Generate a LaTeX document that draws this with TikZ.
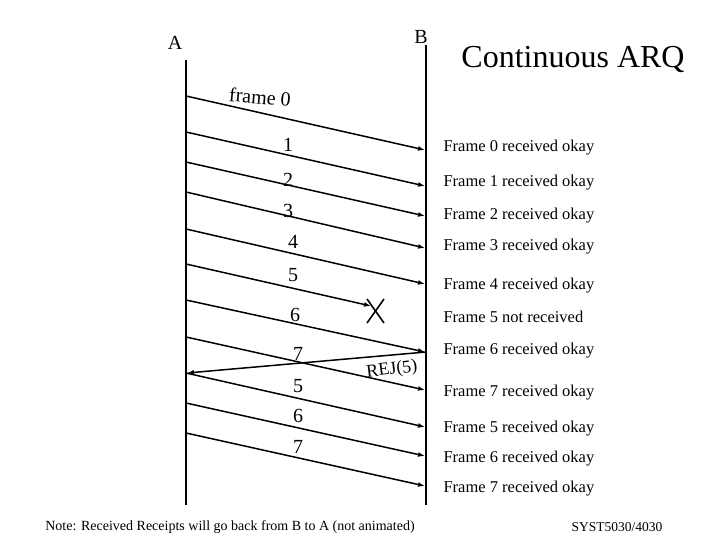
\documentclass[tikz,border=0pt]{standalone}
\usepackage{fontspec}
\setmainfont{Liberation Serif}
\usetikzlibrary{arrows.meta}
\begin{document}
\begin{tikzpicture}[x=1pt,y=-1pt,
  msg/.style={line width=1.5pt,-{Latex[length=7pt,width=5pt]}},
  num/.style={font=\fontsize{20}{22}\selectfont,anchor=base},
  rl/.style={font=\fontsize{16.5}{18}\selectfont,anchor=west},
  line/.style={line width=1.6pt}]
\useasboundingbox (0,0) rectangle (720,540);
\coordinate (Atop) at (186,60); \coordinate (Abot) at (186,505);
\coordinate (Btop) at (426,45); \coordinate (Bbot) at (426,505);
\draw[line] (Atop) -- (Abot); \draw[line] (Btop) -- (Bbot);
\node[font=\fontsize{20}{22}\selectfont] (A) at (175,43) {A};
\node[font=\fontsize{20}{22}\selectfont] (B) at (421,37) {B};
\node[font=\fontsize{32}{34}\selectfont] (T) at (573,60) {Continuous ARQ};
\foreach \n/\ya/\yb in {s0/96/150,s1/132/186,s2/162/216,s3/192/248,s4/229/284,s6/300/352,s7/337/390,r5/373/427,r6/403/456,r7/433/486}{
  \coordinate (\n a) at (186,\ya); \coordinate (\n b) at (425,\yb);
  \draw[msg] (\n a) -- (\n b);}
\coordinate (s5a) at (186,264); \coordinate (s5b) at (371,306);
\draw[msg] (s5a) -- (s5b);
\coordinate (x1) at (367,299); \coordinate (x2) at (384,323);
\coordinate (x3) at (384,299); \coordinate (x4) at (367,323);
\draw[line] (x1)--(x2); \draw[line] (x3)--(x4);
\coordinate (rejA) at (187,373); \coordinate (rejB) at (426,352);
\draw[msg] (rejB) -- (rejA);
\node[font=\fontsize{18}{20}\selectfont,rotate=7] (rej) at (392,370) {REJ(5)};
\node[font=\fontsize{20}{22}\selectfont,rotate=-5] (f0) at (260,97) {frame 0};
\foreach \t/\x/\y in {1/288/152,2/288/187,3/288/218,4/293/248,5/293/281,6/295/321,7/298/360,5/298/392,6/298/422,7/298/453}
  \node[num] at (\x,\y) {\t};
\foreach \t/\y in {Frame 0 received okay/148,Frame 1 received okay/183,Frame 2 received okay/216,Frame 3 received okay/247,Frame 4 received okay/286,Frame 5 not received/317,Frame 6 received okay/351,Frame 7 received okay/393,Frame 5 received okay/429,Frame 6 received okay/459,Frame 7 received okay/489}
  \node[rl] at (440,\y) {\t};
\node[font=\fontsize{14}{16}\selectfont] (note) at (230,527) {Note: Received Receipts will go back from B to A (not animated)};
\node[font=\fontsize{13.5}{15}\selectfont] (syst) at (617,527) {SYST5030/4030};
\end{tikzpicture}
\end{document}
